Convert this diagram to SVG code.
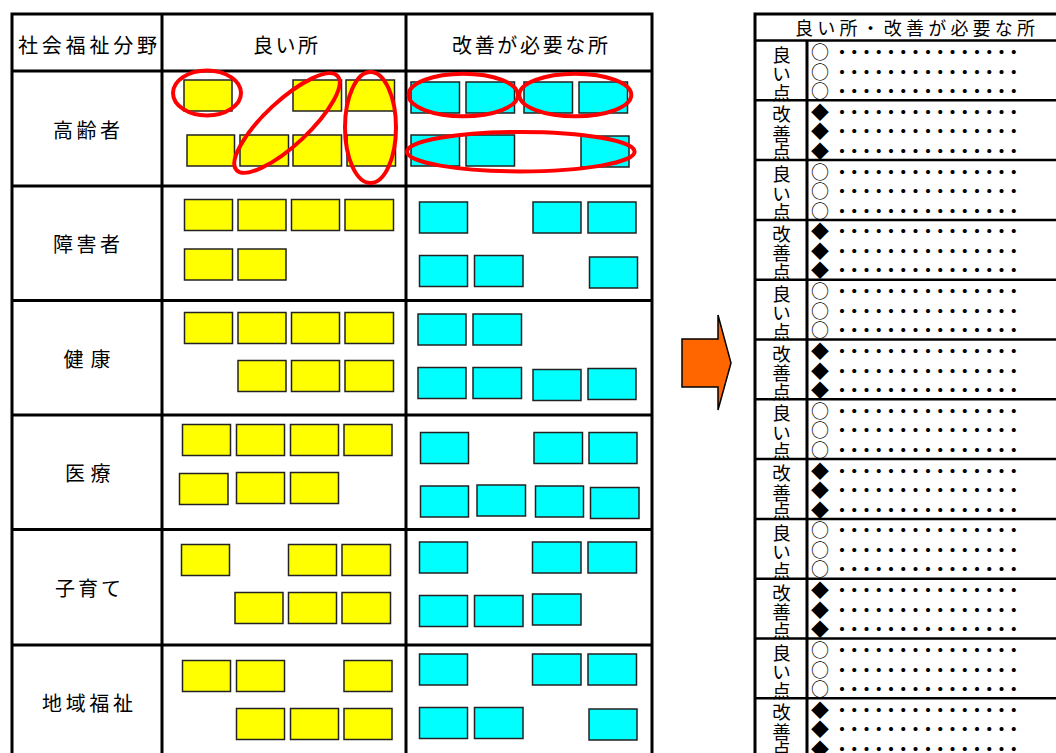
<svg xmlns="http://www.w3.org/2000/svg" width="1056" height="753" viewBox="0 0 1056 753">
<style>
.t{font-family:"Noto Sans CJK JP","Noto Sans CJK SC",sans-serif;fill:#000;dominant-baseline:central}
.h{font-size:20px}
.l{font-size:18.5px}
.b{font-size:18px}
.d{font-size:16px;font-weight:bold;letter-spacing:-3.73px}
.y rect{fill:#FFFF00;stroke:#222;stroke-width:1.5}
.c rect{fill:#00FFFF;stroke:#222;stroke-width:1.5}
.e{fill:none;stroke:#FF0000;stroke-width:4}
.ln{stroke:#000;stroke-width:3;fill:none}
.ln2{stroke:#000;stroke-width:2.5;fill:none}
</style>
<rect width="1056" height="753" fill="#fff"/>

<g id="left-table-grid">
<rect class="ln" x="12" y="14" width="640" height="760"/>
<line class="ln" x1="162" y1="14" x2="162" y2="760"/>
<line class="ln" x1="406" y1="14" x2="406" y2="760"/>
<line class="ln" x1="12" y1="71" x2="652" y2="71"/>
<line class="ln" x1="12" y1="186" x2="652" y2="186"/>
<line class="ln" x1="12" y1="300.5" x2="652" y2="300.5"/>
<line class="ln" x1="12" y1="415" x2="652" y2="415"/>
<line class="ln" x1="12" y1="529.5" x2="652" y2="529.5"/>
<line class="ln" x1="12" y1="645" x2="652" y2="645"/>
</g>

<g id="headers">
<text class="t h" x="18" y="44" textLength="139" lengthAdjust="spacing">社会福祉分野</text>
<text class="t h" x="253" y="44" textLength="65" lengthAdjust="spacing">良い所</text>
<text class="t h" x="452" y="44" textLength="156" lengthAdjust="spacing">改善が必要な所</text>
</g>

<g id="row-labels">
<text class="t h" x="53" y="129" textLength="67" lengthAdjust="spacing">高齢者</text>
<text class="t h" x="53" y="243" textLength="67" lengthAdjust="spacing">障害者</text>
<text class="t h" x="63.5" y="358" textLength="47" lengthAdjust="spacing">健康</text>
<text class="t h" x="65" y="472" textLength="45.5" lengthAdjust="spacing">医療</text>
<text class="t h" x="55" y="587" textLength="66" lengthAdjust="spacing">子育て</text>
<text class="t h" x="42" y="702" textLength="91" lengthAdjust="spacing">地域福祉</text>
</g>

<g id="row1-good" class="y">
<rect x="184" y="80" width="48" height="31"/>
<rect x="293" y="80" width="48.5" height="31"/>
<rect x="346" y="80" width="48.5" height="31"/>
<rect x="187" y="135" width="47.5" height="31"/>
<rect x="240" y="135" width="48.5" height="31"/>
<rect x="293" y="135" width="48.5" height="31"/>
<rect x="347" y="135" width="48.5" height="31"/>
</g>
<g id="row1-bad" class="c">
<rect x="411" y="82" width="48.5" height="31"/>
<rect x="466" y="82" width="48.5" height="31"/>
<rect x="524" y="82" width="48.5" height="31"/>
<rect x="579" y="82" width="48.5" height="31"/>
<rect x="411" y="135" width="48.5" height="31"/>
<rect x="466" y="135" width="48.5" height="31"/>
<rect x="581" y="136" width="48" height="31"/>
</g>

<g id="row2-good" class="y">
<rect x="184.5" y="199.5" width="48" height="31"/>
<rect x="238" y="199.5" width="48" height="31"/>
<rect x="291.5" y="199.5" width="48" height="31"/>
<rect x="345" y="199.5" width="48.5" height="31"/>
<rect x="184.5" y="249" width="48" height="31"/>
<rect x="238" y="249" width="48" height="31"/>
</g>
<g id="row2-bad" class="c">
<rect x="419.5" y="202" width="48" height="31"/>
<rect x="533" y="202" width="48" height="31"/>
<rect x="588" y="202" width="48" height="31"/>
<rect x="419.5" y="255.5" width="48" height="31"/>
<rect x="474.5" y="255.5" width="48.5" height="31"/>
<rect x="589.5" y="257" width="48" height="31"/>
</g>

<g id="row3-good" class="y">
<rect x="184.5" y="312.5" width="48" height="31"/>
<rect x="238" y="312.5" width="48" height="31"/>
<rect x="291.5" y="312.5" width="48" height="31"/>
<rect x="345" y="312.5" width="48.5" height="31"/>
<rect x="238" y="360.5" width="48" height="31"/>
<rect x="291.5" y="360.5" width="48" height="31"/>
<rect x="345" y="360.5" width="48.5" height="31"/>
</g>
<g id="row3-bad" class="c">
<rect x="418" y="314" width="48" height="31"/>
<rect x="473" y="314" width="48.5" height="31"/>
<rect x="418" y="367.5" width="48" height="31"/>
<rect x="473" y="367.5" width="48.5" height="31"/>
<rect x="533" y="369.5" width="48" height="31"/>
<rect x="588" y="368.5" width="48" height="31"/>
</g>

<g id="row4-good" class="y">
<rect x="182.5" y="424.5" width="48" height="31"/>
<rect x="236.5" y="424.5" width="48" height="31"/>
<rect x="290.5" y="424.5" width="48" height="31"/>
<rect x="344" y="424.5" width="48" height="31"/>
<rect x="179.5" y="473.5" width="48.5" height="31"/>
<rect x="236.5" y="472.5" width="48" height="31"/>
<rect x="290.5" y="472.5" width="48" height="31"/>
</g>
<g id="row4-bad" class="c">
<rect x="420.5" y="432.5" width="48" height="31"/>
<rect x="534" y="432.5" width="48.5" height="31"/>
<rect x="589" y="432.5" width="48" height="31"/>
<rect x="420.5" y="486" width="48" height="31"/>
<rect x="477" y="485" width="48.5" height="31"/>
<rect x="535.5" y="486" width="48" height="31"/>
<rect x="590.5" y="487.5" width="48.5" height="31"/>
</g>

<g id="row5-good" class="y">
<rect x="181.5" y="544.5" width="48" height="31"/>
<rect x="288.5" y="544.5" width="48" height="31"/>
<rect x="342" y="544.5" width="48.5" height="31"/>
<rect x="235" y="592.5" width="48" height="31"/>
<rect x="288.5" y="592.5" width="48" height="31"/>
<rect x="342" y="592.5" width="48.5" height="31"/>
</g>
<g id="row5-bad" class="c">
<rect x="419.5" y="542" width="48" height="31"/>
<rect x="532.5" y="542" width="48.5" height="31"/>
<rect x="588" y="542" width="48.5" height="31"/>
<rect x="419.5" y="595.5" width="48" height="31"/>
<rect x="474.5" y="595.5" width="48.5" height="31"/>
<rect x="532.5" y="594" width="48.5" height="31"/>
</g>

<g id="row6-good" class="y">
<rect x="182.5" y="660.5" width="48" height="31"/>
<rect x="236.5" y="660.5" width="48" height="31"/>
<rect x="344" y="660.5" width="48" height="31"/>
<rect x="236.5" y="708.5" width="48" height="31"/>
<rect x="290.5" y="708.5" width="48" height="31"/>
<rect x="344" y="708.5" width="48" height="31"/>
</g>
<g id="row6-bad" class="c">
<rect x="419.5" y="654" width="48" height="31"/>
<rect x="532.5" y="654" width="48.5" height="31"/>
<rect x="588" y="654" width="48.5" height="31"/>
<rect x="419.5" y="707.5" width="48" height="31"/>
<rect x="474.5" y="707.5" width="48.5" height="31"/>
<rect x="589" y="709" width="48" height="31"/>
</g>

<g id="groupings">
<ellipse class="e" cx="207" cy="93" rx="34" ry="22.5"/>
<ellipse class="e" cx="287" cy="123" rx="69" ry="22" transform="rotate(-43 287 123)"/>
<ellipse class="e" cx="370.5" cy="127.5" rx="25.5" ry="55.5"/>
<ellipse class="e" cx="463.3" cy="95" rx="54.7" ry="21.3"/>
<ellipse class="e" cx="575.3" cy="95" rx="56" ry="21.3"/>
<ellipse class="e" cx="520.8" cy="151.7" rx="113.8" ry="19.7"/>
</g>

<g id="arrow">
<polygon points="682,339 718,339 718,315 731,363 718,410 718,387 682,387" fill="#FF6600" stroke="#000" stroke-width="1.5" stroke-linejoin="miter"/>
</g>

<g id="right-table-grid">
<rect class="ln" x="755" y="14" width="320" height="760"/>
<line class="ln" x1="807" y1="40.5" x2="807" y2="760"/>
<line class="ln2" x1="755" y1="40.5" x2="1060" y2="40.5"/>
<line class="ln2" x1="755" y1="100.3" x2="1060" y2="100.3"/>
<line class="ln2" x1="755" y1="160.1" x2="1060" y2="160.1"/>
<line class="ln2" x1="755" y1="219.9" x2="1060" y2="219.9"/>
<line class="ln2" x1="755" y1="279.7" x2="1060" y2="279.7"/>
<line class="ln2" x1="755" y1="339.5" x2="1060" y2="339.5"/>
<line class="ln2" x1="755" y1="399.3" x2="1060" y2="399.3"/>
<line class="ln2" x1="755" y1="459.1" x2="1060" y2="459.1"/>
<line class="ln2" x1="755" y1="518.9" x2="1060" y2="518.9"/>
<line class="ln2" x1="755" y1="578.7" x2="1060" y2="578.7"/>
<line class="ln2" x1="755" y1="638.5" x2="1060" y2="638.5"/>
<line class="ln2" x1="755" y1="698.3" x2="1060" y2="698.3"/>
</g>

<g id="right-header">
<text class="t" style="font-size:18px" x="795" y="27" textLength="240" lengthAdjust="spacing">良い所・改善が必要な所</text>
</g>

<g id="right-labels" text-anchor="middle">
<text class="t l"><tspan x="781.5" y="53.5">良</tspan><tspan x="781.5" y="73">い</tspan><tspan x="781.5" y="91.5">点</tspan></text>
<text class="t l"><tspan x="781.5" y="113.3">改</tspan><tspan x="781.5" y="132.8">善</tspan><tspan x="781.5" y="151.3">点</tspan></text>
<text class="t l"><tspan x="781.5" y="173.1">良</tspan><tspan x="781.5" y="192.6">い</tspan><tspan x="781.5" y="211.1">点</tspan></text>
<text class="t l"><tspan x="781.5" y="232.9">改</tspan><tspan x="781.5" y="252.4">善</tspan><tspan x="781.5" y="270.9">点</tspan></text>
<text class="t l"><tspan x="781.5" y="292.7">良</tspan><tspan x="781.5" y="312.2">い</tspan><tspan x="781.5" y="330.7">点</tspan></text>
<text class="t l"><tspan x="781.5" y="352.5">改</tspan><tspan x="781.5" y="372">善</tspan><tspan x="781.5" y="390.5">点</tspan></text>
<text class="t l"><tspan x="781.5" y="412.3">良</tspan><tspan x="781.5" y="431.8">い</tspan><tspan x="781.5" y="450.3">点</tspan></text>
<text class="t l"><tspan x="781.5" y="472.1">改</tspan><tspan x="781.5" y="491.6">善</tspan><tspan x="781.5" y="510.1">点</tspan></text>
<text class="t l"><tspan x="781.5" y="531.9">良</tspan><tspan x="781.5" y="551.4">い</tspan><tspan x="781.5" y="569.9">点</tspan></text>
<text class="t l"><tspan x="781.5" y="591.7">改</tspan><tspan x="781.5" y="611.2">善</tspan><tspan x="781.5" y="629.7">点</tspan></text>
<text class="t l"><tspan x="781.5" y="651.5">良</tspan><tspan x="781.5" y="671">い</tspan><tspan x="781.5" y="689.5">点</tspan></text>
<text class="t l"><tspan x="781.5" y="711.3">改</tspan><tspan x="781.5" y="730.8">善</tspan><tspan x="781.5" y="749.3">点</tspan></text>
</g>

<g id="right-items">
<text class="t b" x="811" y="51">○</text><text class="t d" x="834" y="51">・・・・・・・・・・・・・・・</text>
<text class="t b" x="811" y="70.5">○</text><text class="t d" x="834" y="70.5">・・・・・・・・・・・・・・・</text>
<text class="t b" x="811" y="90">○</text><text class="t d" x="834" y="90">・・・・・・・・・・・・・・・</text>
<text class="t b" x="811" y="110.8">◆</text><text class="t d" x="834" y="110.8">・・・・・・・・・・・・・・・</text>
<text class="t b" x="811" y="130.3">◆</text><text class="t d" x="834" y="130.3">・・・・・・・・・・・・・・・</text>
<text class="t b" x="811" y="149.8">◆</text><text class="t d" x="834" y="149.8">・・・・・・・・・・・・・・・</text>
<text class="t b" x="811" y="170.6">○</text><text class="t d" x="834" y="170.6">・・・・・・・・・・・・・・・</text>
<text class="t b" x="811" y="190.1">○</text><text class="t d" x="834" y="190.1">・・・・・・・・・・・・・・・</text>
<text class="t b" x="811" y="209.6">○</text><text class="t d" x="834" y="209.6">・・・・・・・・・・・・・・・</text>
<text class="t b" x="811" y="230.4">◆</text><text class="t d" x="834" y="230.4">・・・・・・・・・・・・・・・</text>
<text class="t b" x="811" y="249.9">◆</text><text class="t d" x="834" y="249.9">・・・・・・・・・・・・・・・</text>
<text class="t b" x="811" y="269.4">◆</text><text class="t d" x="834" y="269.4">・・・・・・・・・・・・・・・</text>
<text class="t b" x="811" y="290.2">○</text><text class="t d" x="834" y="290.2">・・・・・・・・・・・・・・・</text>
<text class="t b" x="811" y="309.7">○</text><text class="t d" x="834" y="309.7">・・・・・・・・・・・・・・・</text>
<text class="t b" x="811" y="329.2">○</text><text class="t d" x="834" y="329.2">・・・・・・・・・・・・・・・</text>
<text class="t b" x="811" y="350">◆</text><text class="t d" x="834" y="350">・・・・・・・・・・・・・・・</text>
<text class="t b" x="811" y="369.5">◆</text><text class="t d" x="834" y="369.5">・・・・・・・・・・・・・・・</text>
<text class="t b" x="811" y="389">◆</text><text class="t d" x="834" y="389">・・・・・・・・・・・・・・・</text>
<text class="t b" x="811" y="409.8">○</text><text class="t d" x="834" y="409.8">・・・・・・・・・・・・・・・</text>
<text class="t b" x="811" y="429.3">○</text><text class="t d" x="834" y="429.3">・・・・・・・・・・・・・・・</text>
<text class="t b" x="811" y="448.8">○</text><text class="t d" x="834" y="448.8">・・・・・・・・・・・・・・・</text>
<text class="t b" x="811" y="469.6">◆</text><text class="t d" x="834" y="469.6">・・・・・・・・・・・・・・・</text>
<text class="t b" x="811" y="489.1">◆</text><text class="t d" x="834" y="489.1">・・・・・・・・・・・・・・・</text>
<text class="t b" x="811" y="508.6">◆</text><text class="t d" x="834" y="508.6">・・・・・・・・・・・・・・・</text>
<text class="t b" x="811" y="529.4">○</text><text class="t d" x="834" y="529.4">・・・・・・・・・・・・・・・</text>
<text class="t b" x="811" y="548.9">○</text><text class="t d" x="834" y="548.9">・・・・・・・・・・・・・・・</text>
<text class="t b" x="811" y="568.4">○</text><text class="t d" x="834" y="568.4">・・・・・・・・・・・・・・・</text>
<text class="t b" x="811" y="589.2">◆</text><text class="t d" x="834" y="589.2">・・・・・・・・・・・・・・・</text>
<text class="t b" x="811" y="608.7">◆</text><text class="t d" x="834" y="608.7">・・・・・・・・・・・・・・・</text>
<text class="t b" x="811" y="628.2">◆</text><text class="t d" x="834" y="628.2">・・・・・・・・・・・・・・・</text>
<text class="t b" x="811" y="649">○</text><text class="t d" x="834" y="649">・・・・・・・・・・・・・・・</text>
<text class="t b" x="811" y="668.5">○</text><text class="t d" x="834" y="668.5">・・・・・・・・・・・・・・・</text>
<text class="t b" x="811" y="688">○</text><text class="t d" x="834" y="688">・・・・・・・・・・・・・・・</text>
<text class="t b" x="811" y="708.8">◆</text><text class="t d" x="834" y="708.8">・・・・・・・・・・・・・・・</text>
<text class="t b" x="811" y="728.3">◆</text><text class="t d" x="834" y="728.3">・・・・・・・・・・・・・・・</text>
<text class="t b" x="811" y="747.8">◆</text><text class="t d" x="834" y="747.8">・・・・・・・・・・・・・・・</text>
</g>
</svg>
